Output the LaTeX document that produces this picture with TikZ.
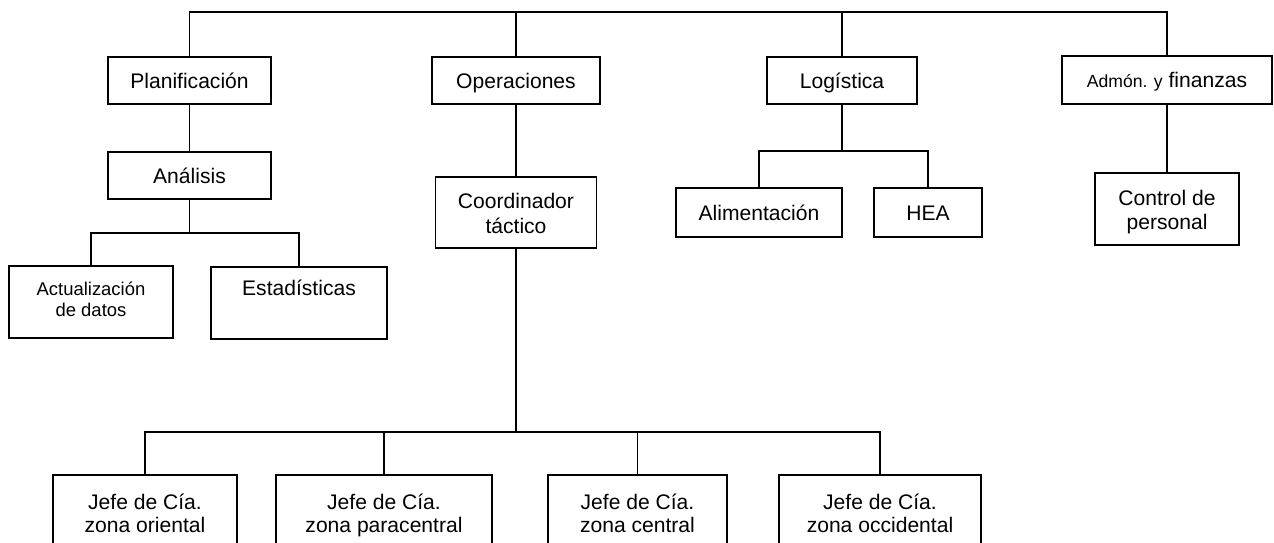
\documentclass[tikz,border=0pt]{standalone}
\usepackage{fontspec}
\setmainfont{Liberation Sans}
\newcommand{\topstrut}{\rule{0pt}{1.07em}}
\newcommand{\tallstrut}{\rule{0pt}{1.15em}}

\begin{document}
\begin{tikzpicture}[x=0.02cm,y=-0.02cm,line width=1.1pt]
\tikzstyle{unit}=[draw,rectangle,inner sep=0pt,align=center,font=\fontsize{12}{13.5}\selectfont,
  execute at begin node=\topstrut,execute at end node=\strut]
\tikzstyle{small}=[font=\fontsize{10.5}{12}\selectfont]
\tikzstyle{link}=[draw]

\clip (0,0) rectangle (1274,543);

% first level
\node[unit,minimum width=3.26cm,minimum height=0.94cm] (plan) at (189.5,80.5) {Planificación};
\node[unit,minimum width=3.36cm,minimum height=0.94cm] (ops) at (516,80.5) {Operaciones};
\node[unit,minimum width=3.0cm,minimum height=0.94cm] (log) at (842,80.5) {Logística};
\node[unit,minimum width=4.2cm,minimum height=0.96cm] (adm) at (1167,80) {{\fontsize{10}{12}\selectfont Admón. y} finanzas};

% planning
\node[unit,minimum width=3.26cm,minimum height=0.94cm] (ana) at (189.5,175.5) {Análisis};
\node[unit,small,minimum width=3.28cm,minimum height=1.44cm] (act) at (91,302) {Actualización\\de datos};
\node[unit,minimum width=3.52cm,minimum height=1.44cm] (est) at (299,303) {Estadísticas\\ \mbox{}};

% operations
\node[unit,minimum width=3.22cm,minimum height=1.42cm] (coord) at (516,212.5) {\tallstrut Coordinador\\[0.5pt]táctico};
\node[unit,anchor=north,minimum width=3.68cm,minimum height=1.5cm] (j1) at (145,474) {\tallstrut Jefe de Cía.\\zona oriental};
\node[unit,anchor=north,minimum width=4.32cm,minimum height=1.5cm] (j2) at (384,474) {\tallstrut Jefe de Cía.\\zona paracentral};
\node[unit,anchor=north,minimum width=3.58cm,minimum height=1.5cm] (j3) at (637.5,474) {\tallstrut Jefe de Cía.\\zona central};
\node[unit,anchor=north,minimum width=4.04cm,minimum height=1.5cm] (j4) at (880,474) {\tallstrut Jefe de Cía.\\zona occidental};

% logistics and finance
\node[unit,minimum width=3.32cm,minimum height=0.98cm] (ali) at (759,212.5) {Alimentación};
\node[unit,minimum width=2.16cm,minimum height=0.98cm] (hea) at (928,212.5) {HEA};
\node[unit,minimum width=2.88cm,minimum height=1.44cm] (ctrl) at (1167,209) {\tallstrut Control de\\personal};

% buses
\coordinate (topbus) at (0,12);
\coordinate (anabus) at (0,233);
\coordinate (logbus) at (0,151);
\coordinate (zonebus) at (0,432);

\path[link] (plan.north) -- (plan.north |- topbus) -- (adm.north |- topbus) -- (adm.north);
\path[link] (ops.north) -- (ops.north |- topbus);
\path[link] (log.north) -- (log.north |- topbus);

\path[link] (plan) -- (ana);
\path[link] (ana) -- (ana.south |- anabus);
\path[link] (act.north) -- (act.north |- anabus) -- (est.north |- anabus) -- (est.north);

\path[link] (ops) -- (coord);
\path[link] (coord) -- (coord.south |- zonebus);
\path[link] (j1.north) -- (j1.north |- zonebus) -- (j4.north |- zonebus) -- (j4.north);
\path[link] (j2.north) -- (j2.north |- zonebus);
\path[link] (j3.north) -- (j3.north |- zonebus);

\path[link] (log) -- (log.south |- logbus);
\path[link] (ali.north) -- (ali.north |- logbus) -- (hea.north |- logbus) -- (hea.north);

\path[link] (adm) -- (ctrl);

\end{tikzpicture}
\end{document}
